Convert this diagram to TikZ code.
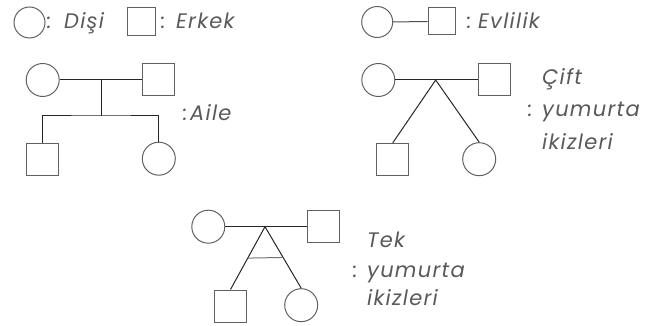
\documentclass[tikz,border=0pt]{standalone}
\usepackage{fontspec}
\usetikzlibrary{calc}
\setmainfont{Poppins}[ItalicFeatures={LetterSpace=6}]
\begin{document}
\begin{tikzpicture}[x=1pt,y=-1pt,
  outline/.style={draw=black!62,line width=1pt},
  female/.style={outline,circle,inner sep=0pt,minimum size=#1},
  female/.default=33pt,
  male/.style={outline,rectangle,inner sep=0pt,minimum size=#1},
  male/.default=32pt,
  link/.style={draw=black!85,line width=1pt},
  bar/.style={draw=black!55,line width=1pt},
  label/.style={text=black!65,font=\itshape\fontsize{21}{25}\selectfont,inner sep=0pt,anchor=base west},
]
\useasboundingbox (0,0) rectangle (659,326);

% legend
\node[female=31pt] (lf) at (29.5,22.5) {};
\node[label] (lfc) at (47,29) {:};
\node[label] (lft) at (64,29) {Dişi};
\node[male=28pt] (lm) at (141.3,21.3) {};
\node[label] (lmc) at (161,29) {:};
\node[label] (lmt) at (176,29) {Erkek};
\node[female=31pt] (ef) at (377.2,22) {};
\node[male=27pt] (em) at (441.7,21.5) {};
\draw[link,draw=black!70] (ef) -- (em);
\node[label] (etc) at (467,29) {:};
\node[label] (et) at (478,29) {Evlilik};

% family
\node[female] (af) at (42.7,80) {};
\node[male] (am) at (158.8,79.5) {};
\draw[link] (af.east) -- (am.west |- af.east);
\coordinate (amid) at (101.7,80);
\coordinate (asplit) at (101.7,116);
\node[male] (ac1) at (42.2,159.3) {};
\node[female] (ac2) at (158.8,158.7) {};
\draw[link] (amid) -- (asplit);
\draw[link] (ac1.north) |- (asplit) -| (ac2.north);
\node[label] (atc) at (183,121) {:};
\node[label] (at) at (190,121) {Aile};

% fraternal twins
\node[female] (cf) at (378.3,80) {};
\node[male] (cm) at (494.5,80) {};
\draw[link] (cf.east) -- (cm.west);
\coordinate (capex) at (435.7,80);
\node[male] (cc1) at (392.8,159.3) {};
\node[female] (cc2) at (479.2,159.2) {};
\draw[link] (cc1.north) -- (capex) -- (cc2.north);
\node[label] (ct1) at (542,85) {Çift};
\node[label] (ct2c) at (528,117) {:};
\node[label] (ct2) at (542,117) {yumurta};
\node[label] (ct3) at (542,150) {ikizleri};

% identical twins
\node[female] (tf) at (208.3,226.7) {};
\node[male] (tm) at (323.8,226.7) {};
\draw[link] (tf.east) -- (tm.west);
\coordinate (tapex) at (265,226.7);
\node[male] (tc1) at (230.5,306) {};
\node[female] (tc2) at (301.2,305.2) {};
\draw[link] (tc1.north) -- (tapex) -- (tc2.north);
\draw[bar] ($(tapex)!0.5!(tc1.north)$) -- ($(tapex)!0.5!(tc2.north)$);
\node[label] (tt1) at (367,247) {Tek};
\node[label] (tt2c) at (353,277) {:};
\node[label] (tt2) at (367,277) {yumurta};
\node[label] (tt3) at (367,305) {ikizleri};
\end{tikzpicture}
\end{document}
